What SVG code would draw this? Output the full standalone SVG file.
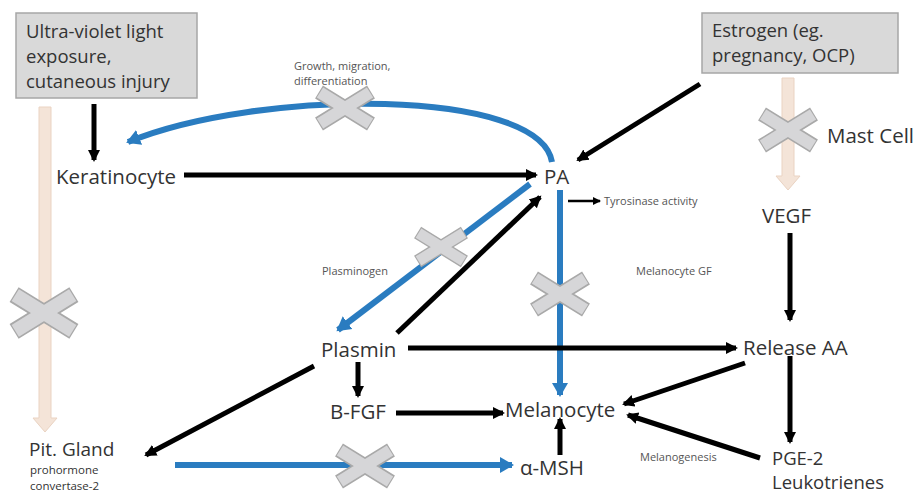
<svg xmlns="http://www.w3.org/2000/svg" width="921" height="495" viewBox="0 0 921 495">
<style>
.lbl{font-family:"Open Sans","Liberation Sans",sans-serif;font-size:20.5px;fill:#333}
.bx{font-family:"Open Sans","Liberation Sans",sans-serif;font-size:18.5px;fill:#333}
.sm{font-family:"Open Sans","Liberation Sans",sans-serif;font-size:11px;fill:#555}
.md{font-family:"Open Sans","Liberation Sans",sans-serif;font-size:11.5px;fill:#333}
.box{fill:#d9d9d9;stroke:#a6a6a6;stroke-width:1.5}
.blk{stroke:#000;stroke-width:5;fill:none;marker-end:url(#ah)}
.thin{stroke:#000;stroke-width:2.5;fill:none;marker-end:url(#ahs)}
.blu{stroke:#2a7cc0;stroke-width:6;fill:none;marker-end:url(#ab)}
.pale{fill:#f4e4d8;stroke:#ead3c2;stroke-width:1}
.xo{stroke:#a9a9a9;stroke-width:15;fill:none}
.xi{stroke:#d6d6d8;stroke-width:12;fill:none}
</style>
<defs>
<marker id="ah" markerUnits="userSpaceOnUse" markerWidth="14" markerHeight="14" refX="10" refY="7" orient="auto"><path d="M0,1 L12,7 L0,13 Z" fill="#000"/></marker>
<marker id="ahs" markerUnits="userSpaceOnUse" markerWidth="10" markerHeight="10" refX="7" refY="5" orient="auto"><path d="M0,1 L8,5 L0,9 Z" fill="#000"/></marker>
<marker id="ab" markerUnits="userSpaceOnUse" markerWidth="18" markerHeight="18" refX="12" refY="9" orient="auto"><path d="M0,1 L14,9 L0,17 Z" fill="#2a7cc0"/></marker>
<g id="xm">
<path class="xo" d="M-26,-16 L26,16 M-26,16 L26,-16"/>
<path class="xi" d="M-25,-15.5 L25,15.5 M-25,15.5 L25,-15.5"/>
</g>
</defs>
<rect width="921" height="495" fill="#fff"/>

<g id="pale-arrows">
<path class="pale" d="M39,107 L51,107 L51,418 L57,418 L45,432 L33,418 L39,418 Z"/>
<path class="pale" d="M782,78 L794,78 L794,176 L800,176 L788,190 L776,176 L782,176 Z"/>
</g>

<g id="connectors">
<line class="blk" x1="94" y1="104" x2="94" y2="160"/>
<line class="blk" x1="184" y1="175" x2="536" y2="175"/>
<path class="blu" d="M552,162 C540,88 260,88 128,142"/>
<line class="blk" x1="700" y1="84" x2="578" y2="160"/>
<line class="thin" x1="568" y1="201" x2="600" y2="201"/>
<line class="blu" x1="560" y1="190" x2="560" y2="395"/>
<line class="blu" x1="530" y1="184" x2="338" y2="330"/>
<line class="blk" x1="397" y1="333" x2="540" y2="197"/>
<line class="blk" x1="408" y1="348" x2="736" y2="348"/>
<line class="blk" x1="358" y1="362" x2="358" y2="396"/>
<line class="blk" x1="396" y1="413" x2="503" y2="413"/>
<line class="blk" x1="560" y1="455" x2="560" y2="419"/>
<line class="blu" x1="175" y1="465" x2="512" y2="465"/>
<line class="blk" x1="314" y1="366" x2="146" y2="455"/>
<line class="blk" x1="790" y1="233" x2="790" y2="320"/>
<line class="blk" x1="790" y1="356" x2="790" y2="442"/>
<line class="blk" x1="745" y1="363" x2="624" y2="404"/>
<line class="blk" x1="760" y1="458" x2="628" y2="415"/>
</g>

<g id="x-marks">
<use href="#xm" x="44" y="313" transform="translate(44 313) scale(1.15) translate(-44 -313)"/>
<use href="#xm" x="345" y="108"/>
<use href="#xm" x="441" y="247" transform="translate(441 247) scale(0.9) translate(-441 -247)"/>
<use href="#xm" x="560" y="294"/>
<use href="#xm" x="365" y="466"/>
<use href="#xm" x="788" y="130"/>
</g>

<g id="n-uv">
<rect class="box" x="16" y="13" width="181" height="85"/>
<text class="bx" x="26" y="38">Ultra-violet light</text>
<text class="bx" x="26" y="63">exposure,</text>
<text class="bx" x="26" y="88">cutaneous injury</text>
</g>
<g id="n-estrogen">
<rect class="box" x="702" y="13" width="196" height="60"/>
<text class="bx" x="712" y="37">Estrogen (eg.</text>
<text class="bx" x="712" y="62">pregnancy, OCP)</text>
</g>
<g id="n-keratinocyte"><text class="lbl" x="56" y="184">Keratinocyte</text></g>
<g id="n-pa"><text class="lbl" x="544" y="184">PA</text></g>
<g id="n-growth"><text class="sm" x="294" y="70">Growth, migration,</text><text class="sm" x="294" y="85">differentiation</text></g>
<g id="n-tyrosinase"><text class="sm" x="604" y="205">Tyrosinase activity</text></g>
<g id="n-melgf"><text class="sm" x="636" y="275">Melanocyte GF</text></g>
<g id="n-plasminogen"><text class="sm" x="322" y="275">Plasminogen</text></g>
<g id="n-mast"><text class="lbl" x="827" y="143">Mast Cell</text></g>
<g id="n-vegf"><text class="lbl" x="762" y="223">VEGF</text></g>
<g id="n-plasmin"><text class="lbl" x="321" y="357">Plasmin</text></g>
<g id="n-release"><text class="lbl" x="743" y="355">Release AA</text></g>
<g id="n-bfgf"><text class="lbl" x="330" y="419">B-FGF</text></g>
<g id="n-melanocyte"><text class="lbl" x="505" y="417">Melanocyte</text></g>
<g id="n-msh"><text class="lbl" x="520" y="475">α-MSH</text></g>
<g id="n-pit"><text class="lbl" x="29" y="456" style="font-size:19px">Pit. Gland</text><text class="md" x="30" y="474">prohormone</text><text class="md" x="30" y="490">convertase-2</text></g>
<g id="n-pge"><text class="lbl" x="772" y="465" style="font-size:18.5px">PGE-2</text><text class="lbl" x="772" y="489" style="font-size:18.5px">Leukotrienes</text></g>
<g id="n-melanogenesis"><text class="sm" x="640" y="461">Melanogenesis</text></g>
</svg>
